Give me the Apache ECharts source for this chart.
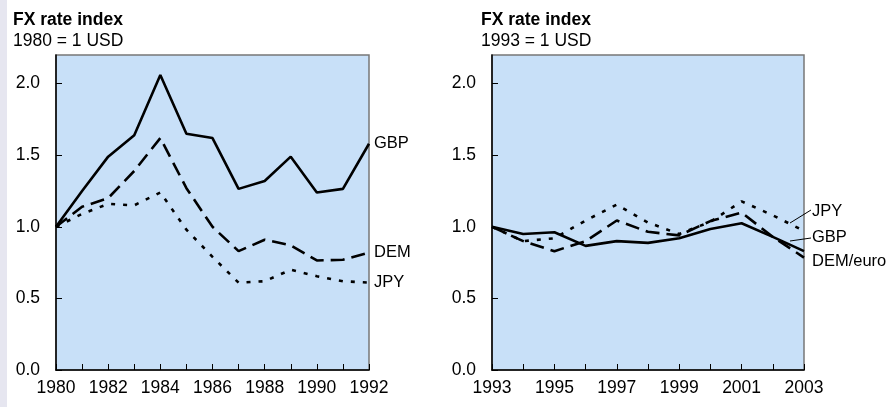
<!DOCTYPE html>
<html>
<head>
<meta charset="utf-8">
<script src="https://cdn.jsdelivr.net/npm/echarts@6/dist/echarts.min.js"></script>
<style>
  html, body { margin: 0; padding: 0; background: #fff; }
  #strip { position: absolute; left: 0; top: 0; width: 7px; height: 407px; background: #e6e6f0; }
  #chart { width: 889px; height: 407px; }
</style>
</head>
<body>
<div id="strip"></div>
<div id="chart"></div>
<script>
  // left panel, 1980 = 1
  var yearsA = ['1980', '1981', '1982', '1983', '1984', '1985', '1986', '1987', '1988', '1989', '1990', '1991', '1992'];
  var gbpA = [1.00, 1.25, 1.49, 1.64, 2.06, 1.65, 1.62, 1.265, 1.32, 1.49, 1.24, 1.265, 1.58];
  var demA = [1.00, 1.14, 1.20, 1.39, 1.62, 1.27, 1.00, 0.83, 0.91, 0.87, 0.765, 0.77, 0.82];
  var jpyA = [1.00, 1.09, 1.16, 1.15, 1.24, 0.98, 0.79, 0.61, 0.62, 0.70, 0.655, 0.62, 0.61];

  // right panel, 1993 = 1
  var yearsB = ['1993', '1994', '1995', '1996', '1997', '1998', '1999', '2000', '2001', '2002', '2003'];
  var gbpB = [1.00, 0.95, 0.962, 0.867, 0.90, 0.888, 0.92, 0.985, 1.025, 0.93, 0.83];
  var demB = [1.00, 0.90, 0.83, 0.90, 1.044, 0.965, 0.94, 1.04, 1.10, 0.93, 0.785];
  var jpyB = [1.00, 0.90, 0.92, 1.044, 1.155, 1.03, 0.95, 1.035, 1.178, 1.08, 0.972];

  var font = 'Liberation Sans, Arial, sans-serif';
  var fs = 17.5;
  var lfs = 16.5;
  var bg = '#c8e0f8';

  var chart = echarts.init(document.getElementById('chart'));

  var xAxisFor = function (idx, data) {
    return {
      type: 'category', gridIndex: idx, data: data, boundaryGap: false,
      axisLine: { lineStyle: { color: '#000', width: 1.5 } },
      axisTick: { inside: true, length: 6, lineStyle: { color: '#000' }, interval: 0 },
      axisLabel: { color: '#000', fontSize: fs, fontFamily: font, margin: 9, interval: 1 },
      splitLine: { show: false }
    };
  };
  var yAxisFor = function (idx) {
    return {
      type: 'value', gridIndex: idx, min: 0, max: 2.2, interval: 0.5,
      axisLine: { show: true, lineStyle: { color: '#000', width: 1.5 } },
      axisTick: { show: true, inside: true, length: 6, lineStyle: { color: '#000' } },
      axisLabel: {
        color: '#000', fontSize: fs, fontFamily: font, margin: 16, showMaxLabel: false,
        formatter: function (v) { return v.toFixed(1); }
      },
      splitLine: { show: false }
    };
  };
  var line = function (name, data, idx, type, label, offset) {
    return {
      name: name, type: 'line', xAxisIndex: idx, yAxisIndex: idx, data: data,
      symbol: 'none', silent: true,
      lineStyle: { color: '#000', width: 2.6, type: type },
      endLabel: {
        show: true, formatter: label, color: '#000', fontSize: lfs, fontFamily: font,
        distance: 5, offset: offset || [0, 0]
      }
    };
  };

  chart.setOption({
    animation: false,
    title: [
      {
        text: 'FX rate index', subtext: '1980 = 1 USD', left: 8, top: 6, itemGap: 3,
        textStyle: { fontSize: fs, fontWeight: 'bold', color: '#000', fontFamily: font },
        subtextStyle: { fontSize: fs, color: '#000', fontFamily: font }
      },
      {
        text: 'FX rate index', subtext: '1993 = 1 USD', left: 476, top: 6, itemGap: 3,
        textStyle: { fontSize: fs, fontWeight: 'bold', color: '#000', fontFamily: font },
        subtextStyle: { fontSize: fs, color: '#000', fontFamily: font }
      }
    ],
    grid: [
      { left: 56, top: 55, width: 313, height: 315, show: true, backgroundColor: bg, borderColor: '#777', borderWidth: 1.5 },
      { left: 492, top: 55, width: 312, height: 315, show: true, backgroundColor: bg, borderColor: '#777', borderWidth: 1.5 }
    ],
    xAxis: [xAxisFor(0, yearsA), xAxisFor(1, yearsB)],
    yAxis: [yAxisFor(0), yAxisFor(1)],
    series: [
      line('GBP', gbpA, 0, 'solid', 'GBP'),
      line('DEM', demA, 0, [14, 7], 'DEM'),
      line('JPY', jpyA, 0, [4, 8], 'JPY'),
      line('GBP', gbpB, 1, 'solid', 'GBP', [3, -14]),
      line('DEM/euro', demB, 1, [14, 7], 'DEM/euro', [3, 4]),
      line('JPY', jpyB, 1, [4, 8], 'JPY', [3, -19])
    ],
    graphic: [
      { type: 'line', shape: { x1: 790, y1: 223, x2: 811, y2: 210 }, style: { stroke: '#000', lineWidth: 1 } },
      { type: 'line', shape: { x1: 790, y1: 241, x2: 811, y2: 238 }, style: { stroke: '#000', lineWidth: 1 } }
    ]
  });
</script>
</body>
</html>
